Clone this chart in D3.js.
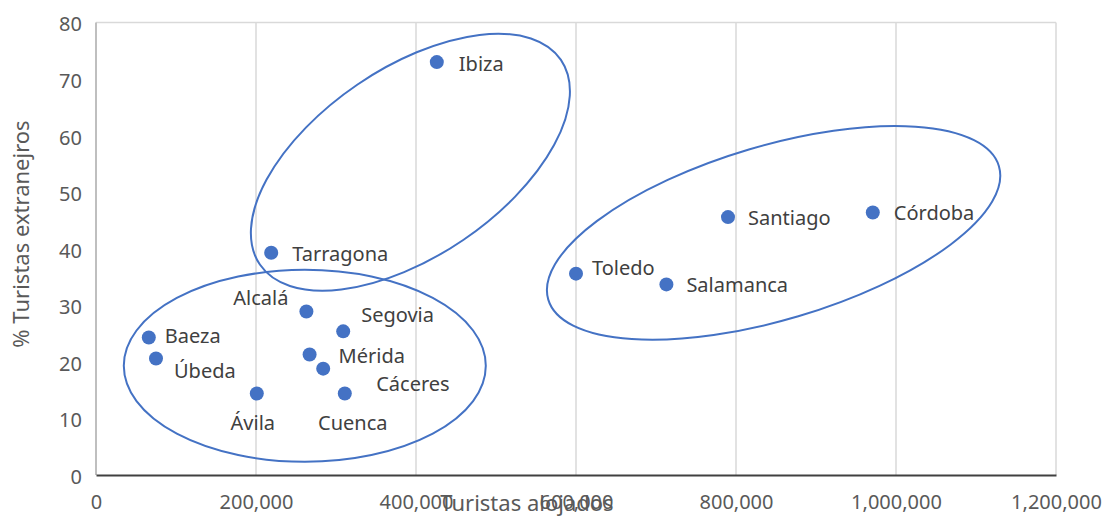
<!DOCTYPE html>
<html>
<head>
<meta charset="utf-8">
<script src="https://cdn.jsdelivr.net/npm/d3@7"></script>
<style>
  body { margin: 0; background: #fff; }
  text { font-family: "Noto Sans", sans-serif; }
</style>
</head>
<body>
<svg id="chart" width="1106" height="516"></svg>
<script>
// data
var cities = ["Ibiza", "Tarragona", "Alcalá", "Segovia", "Baeza", "Úbeda", "Mérida", "Cáceres",
              "Ávila", "Cuenca", "Toledo", "Salamanca", "Santiago", "Córdoba"];
var touristsHosted = [426000, 219000, 263000, 309000, 66000, 75000, 267000, 284000,
                      201000, 311000, 600000, 713000, 790000, 971000];
var pctForeign = [73.0, 39.3, 28.9, 25.4, 24.3, 20.6, 21.3, 18.8,
                  14.4, 14.4, 35.6, 33.7, 45.6, 46.4];
var xTicks = [0, 200000, 400000, 600000, 800000, 1000000, 1200000];
var yTicks = [0, 10, 20, 30, 40, 50, 60, 70, 80];

// groups circled on the chart: centre in data units
var groupCx = [261000, 393000, 847000];
var groupCy = [19.3, 55.3, 42.8];

// label placement (pixels from the point)
var labelDx = [22, 21, -18, 18, 16, 18, 29, 53, -4, 8, 16, 20, 20, 21];
var labelDy = [2, 1, -14, -17, -2, 12, 1, 15, 29, 29, -6, 0, 1, 0];
var labelAnchor = ["start", "start", "end", "start", "start", "start", "start", "start",
                   "middle", "middle", "start", "start", "start", "start"];
// ellipse shape in pixels
var groupRx = [181, 182, 235];
var groupRy = [96, 94, 87];
var groupRot = [0, -34.2, -16.5];

var blue = "#4472C4";
var svg = d3.select("#chart");

var x = d3.scaleLinear().domain([0, 1200000]).range([96, 1056]);
var y = d3.scaleLinear().domain([0, 80]).range([475, 22.5]);

// vertical gridlines
svg.append("g")
  .selectAll("line")
  .data(xTicks.slice(1))
  .enter().append("line")
  .attr("x1", function (d) { return x(d); })
  .attr("x2", function (d) { return x(d); })
  .attr("y1", y(80))
  .attr("y2", y(0))
  .attr("stroke", "#d9d9d9")
  .attr("stroke-width", 1.5);

// top line and left axis line
svg.append("line")
  .attr("x1", x(0)).attr("x2", x(1200000))
  .attr("y1", y(80)).attr("y2", y(80))
  .attr("stroke", "#d9d9d9").attr("stroke-width", 1.5);
svg.append("line")
  .attr("x1", x(0)).attr("x2", x(0))
  .attr("y1", y(80)).attr("y2", y(0))
  .attr("stroke", "#bfbfbf").attr("stroke-width", 2);

// x axis
var xAxis = svg.append("g")
  .attr("transform", "translate(0," + y(0) + ")")
  .call(d3.axisBottom(x).tickValues(xTicks).tickSize(0).tickPadding(20)
    .tickFormat(d3.format(",")));
xAxis.select(".domain").attr("stroke", "#404040").attr("stroke-width", 2);
xAxis.selectAll("text").attr("font-size", 20).attr("fill", "#595959")
  .attr("font-family", "Noto Sans");

// y axis
var yAxis = svg.append("g")
  .attr("transform", "translate(" + x(0) + ",0)")
  .call(d3.axisLeft(y).tickValues(yTicks).tickSize(0).tickPadding(14));
yAxis.select(".domain").remove();
yAxis.selectAll("text").attr("font-size", 20).attr("fill", "#595959")
  .attr("font-family", "Noto Sans").attr("dy", "0.42em");

// axis titles (the x title sits over the 600,000 label, as in the original)
svg.append("text")
  .attr("x", 527).attr("y", 511)
  .attr("text-anchor", "middle")
  .attr("font-size", 22).attr("fill", "#595959")
  .text("Turistas alojados");
svg.append("text")
  .attr("transform", "translate(29,234) rotate(-90)")
  .attr("text-anchor", "middle")
  .attr("font-size", 22).attr("fill", "#595959")
  .text("% Turistas extranejros");

// points
var pts = cities.map(function (c, i) {
  return { name: c, tx: touristsHosted[i], pf: pctForeign[i],
           dx: labelDx[i], dy: labelDy[i], anchor: labelAnchor[i] };
});

svg.append("g")
  .selectAll("circle")
  .data(pts)
  .enter().append("circle")
  .attr("cx", function (d) { return x(d.tx); })
  .attr("cy", function (d) { return y(d.pf); })
  .attr("r", 7)
  .attr("fill", blue);

svg.append("g")
  .selectAll("text")
  .data(pts)
  .enter().append("text")
  .attr("x", function (d) { return x(d.tx) + d.dx; })
  .attr("y", function (d) { return y(d.pf) + d.dy; })
  .attr("dy", "0.36em")
  .attr("text-anchor", function (d) { return d.anchor; })
  .attr("font-size", 20)
  .attr("fill", "#404040")
  .text(function (d) { return d.name; });

// group ellipses
var groups = groupCx.map(function (cx, i) {
  return { cx: cx, cy: groupCy[i], rx: groupRx[i], ry: groupRy[i], rot: groupRot[i] };
});
svg.append("g")
  .selectAll("ellipse")
  .data(groups)
  .enter().append("ellipse")
  .attr("transform", function (d) {
    return "translate(" + x(d.cx) + "," + y(d.cy) + ") rotate(" + d.rot + ")";
  })
  .attr("rx", function (d) { return d.rx; })
  .attr("ry", function (d) { return d.ry; })
  .attr("fill", "none")
  .attr("stroke", blue)
  .attr("stroke-width", 2);
</script>
</body>
</html>
